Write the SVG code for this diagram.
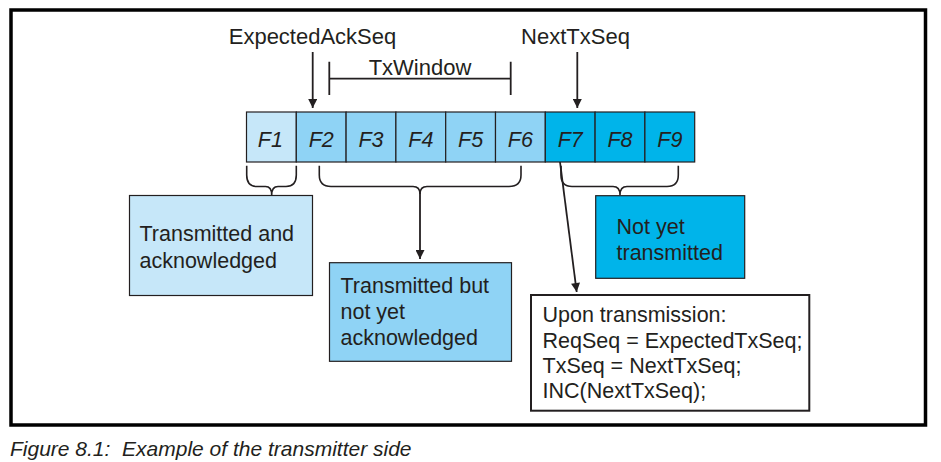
<svg xmlns="http://www.w3.org/2000/svg" width="941" height="462" viewBox="0 0 941 462">
<style>
text{font-family:"Liberation Sans",Arial,sans-serif;fill:#231f20}
.lbl{font-size:22px}
.box{font-size:21.5px}
.f{font-size:21.5px;font-style:italic;text-anchor:middle}
.cell{stroke:#231f20;stroke-width:1.2}
.c1{fill:#c6e7f9}
.c2{fill:#8fd3f5}
.c3{fill:#00b4ea}
.ln{stroke:#231f20;stroke-width:1.8;fill:none}
.br{stroke:#231f20;stroke-width:1.6;fill:none}
</style>
<defs>
<marker id="ah" viewBox="0 0 10 10" refX="10" refY="5" markerWidth="12" markerHeight="9" markerUnits="userSpaceOnUse" orient="auto">
<path d="M0,0 L10,5 L0,10 Z" fill="#231f20"/>
</marker>
</defs>
<rect x="11" y="10" width="914.5" height="415" fill="#fff" stroke="#000" stroke-width="3.5"/>

<g id="labels">
<text class="lbl" x="312.5" y="43.5" text-anchor="middle">ExpectedAckSeq</text>
<text class="lbl" x="575.5" y="43.5" text-anchor="middle">NextTxSeq</text>
<text class="lbl" x="420" y="74.5" text-anchor="middle">TxWindow</text>
</g>

<g id="frames">
<g id="F1"><rect class="cell c1" x="246.5" y="112" width="49.8" height="50"/><text class="f" x="270.4" y="147">F1</text></g>
<g id="F2"><rect class="cell c2" x="296.3" y="112" width="49.8" height="50"/><text class="f" x="321.2" y="147">F2</text></g>
<g id="F3"><rect class="cell c2" x="346.1" y="112" width="49.8" height="50"/><text class="f" x="371" y="147">F3</text></g>
<g id="F4"><rect class="cell c2" x="395.9" y="112" width="49.8" height="50"/><text class="f" x="420.8" y="147">F4</text></g>
<g id="F5"><rect class="cell c2" x="445.7" y="112" width="49.8" height="50"/><text class="f" x="470.6" y="147">F5</text></g>
<g id="F6"><rect class="cell c2" x="495.5" y="112" width="49.8" height="50"/><text class="f" x="520.4" y="147">F6</text></g>
<g id="F7"><rect class="cell c3" x="545.3" y="112" width="49.8" height="50"/><text class="f" x="570.2" y="147">F7</text></g>
<g id="F8"><rect class="cell c3" x="595.1" y="112" width="49.8" height="50"/><text class="f" x="620" y="147">F8</text></g>
<g id="F9"><rect class="cell c3" x="644.9" y="112" width="49.8" height="50"/><text class="f" x="669.8" y="147">F9</text></g>
</g>

<g id="box-acked">
<rect x="129.5" y="195.5" width="183" height="100" fill="#c6e7f9" stroke="#231f20" stroke-width="1.2"/>
<text class="box" x="139.5" y="241">Transmitted and</text>
<text class="box" x="139.5" y="267.5">acknowledged</text>
</g>
<g id="box-unacked">
<rect x="329.5" y="262.7" width="182" height="98.6" fill="#8fd3f5" stroke="#231f20" stroke-width="1.2"/>
<text class="box" x="340.5" y="292.5">Transmitted but</text>
<text class="box" x="340.5" y="318.5">not yet</text>
<text class="box" x="340.5" y="344.5">acknowledged</text>
</g>
<g id="box-notsent">
<rect x="595.7" y="195.7" width="149" height="82.6" fill="#00b4ea" stroke="#231f20" stroke-width="1.2"/>
<text class="box" x="616.5" y="234">Not yet</text>
<text class="box" x="616.5" y="259.5">transmitted</text>
</g>
<g id="box-upon">
<rect x="531" y="295" width="278.3" height="115.7" fill="#fff" stroke="#231f20" stroke-width="2"/>
<text class="box" x="542.5" y="321.5">Upon transmission:</text>
<text class="box" x="542.5" y="348">ReqSeq = ExpectedTxSeq;</text>
<text class="box" x="542.5" y="372.5">TxSeq = NextTxSeq;</text>
<text class="box" x="542.5" y="398">INC(NextTxSeq);</text>
</g>

<g id="connectors">
<line class="ln" x1="312.7" y1="52" x2="312.7" y2="108" marker-end="url(#ah)"/>
<line class="ln" x1="577.3" y1="52" x2="577.3" y2="108" marker-end="url(#ah)"/>
<path class="ln" d="M329.3,61.7 V95 M329.3,78.7 H510.7 M510.7,61.7 V95"/>
<path class="br" d="M246.7,165.7 V175 Q246.7,186.5 257,186.5 H265.5 Q271.7,186.5 271.7,195 Q271.7,186.5 278,186.5 H286 Q296.3,186.5 296.3,175 V165.7"/>
<path class="br" d="M319.3,165.7 V175 Q319.3,186.5 331,186.5 H413 Q420,186.5 420,194 Q420,186.5 427,186.5 H509 Q521,186.5 521,175 V165.7"/>
<path class="br" d="M561,165.7 V175 Q561,186.5 572,186.5 H613 Q620,186.5 620,195 Q620,186.5 627,186.5 H667 Q678.3,186.5 678.3,175 V165.7"/>
<line class="ln" x1="420" y1="193" x2="420" y2="259" marker-end="url(#ah)"/>
<line class="ln" x1="560" y1="162" x2="576.7" y2="292" stroke-width="1.5" marker-end="url(#ah)"/>
</g>

<text x="10" y="456" style="font-size:21px;font-style:italic;white-space:pre" xml:space="preserve">Figure 8.1:  Example of the transmitter side</text>
</svg>
